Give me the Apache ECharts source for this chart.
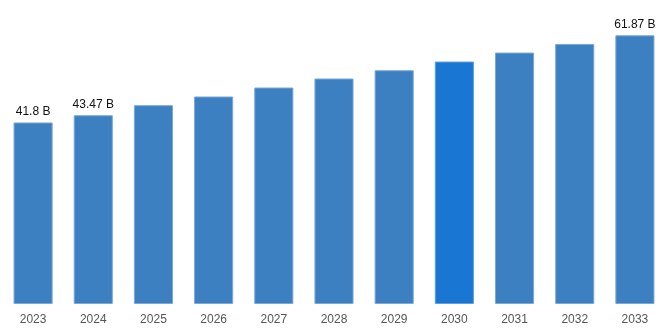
<!DOCTYPE html>
<html>
<head>
<meta charset="utf-8">
<script src="https://cdn.jsdelivr.net/npm/echarts@6/dist/echarts.min.js"></script>
<style>
  html, body { margin: 0; padding: 0; background: #ffffff; }
  #chart { width: 668px; height: 334px; }
</style>
</head>
<body>
<div id="chart"></div>
<script>
// Market size by year, in billions
const years = ['2023', '2024', '2025', '2026', '2027', '2028', '2029', '2030', '2031', '2032', '2033'];
const values = [41.8, 43.47, 45.78, 47.78, 49.85, 51.92, 53.83, 55.83, 57.9, 59.88, 61.87];
// Years whose value is printed above the bar
const labelledYears = ['2023', '2024', '2033'];
const highlightYear = '2030';

const baseColor = '#3d80c2';
const highlightColor = '#1976d2';

const chart = echarts.init(document.getElementById('chart'), null, { renderer: 'canvas' });

const data = years.map((y, i) => ({
  value: values[i],
  itemStyle: {
    color: y === highlightYear ? highlightColor : baseColor,
    borderColor: y === highlightYear ? '#5f9fe0' : '#7aa9d8',
    borderWidth: 1
  },
  label: {
    show: labelledYears.includes(y),
    position: 'top',
    distance: 5,
    formatter: p => p.value + ' B',
    color: '#111',
    fontSize: 12,
    fontFamily: 'Liberation Sans, Arial, sans-serif'
  }
}));

chart.setOption({
  animation: false,
  grid: { left: 3, right: 3, top: 0, bottom: 30, containLabel: false },
  xAxis: {
    type: 'category',
    data: years,
    axisLine: { show: false },
    axisTick: { show: false },
    axisLabel: {
      color: '#555',
      fontSize: 12,
      margin: 10,
      fontFamily: 'Liberation Sans, Arial, sans-serif'
    }
  },
  yAxis: {
    type: 'value',
    min: 0,
    max: 70,
    show: false,
    splitLine: { show: false }
  },
  series: [{
    type: 'bar',
    data: data,
    barWidth: '65%'
  }]
});
</script>
</body>
</html>
